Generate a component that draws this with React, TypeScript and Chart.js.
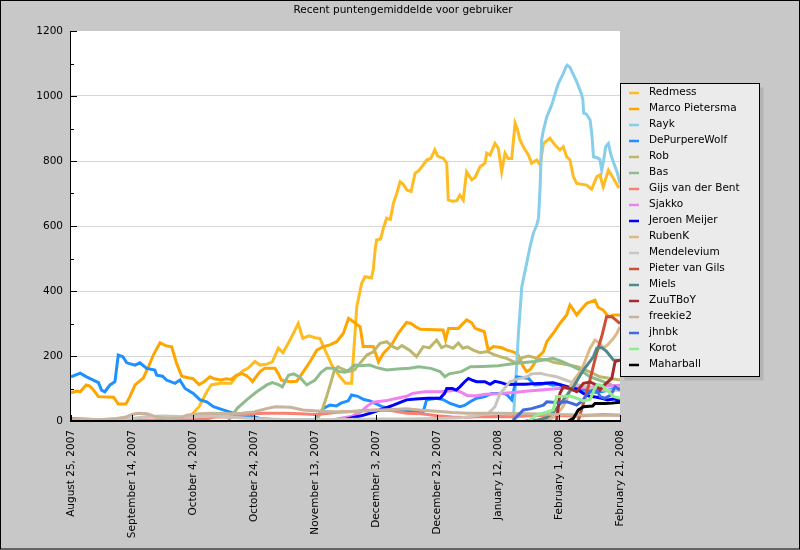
import React, { useEffect, useRef } from "react";
import { Chart, registerables } from "chart.js";

Chart.register(...registerables);

const TITLE = "Recent puntengemiddelde voor gebruiker";
const X_TICK_DAYS = [0, 20, 40, 60, 80, 100, 120, 140, 160, 180];
const X_TICK_LABELS = [
  "August 25, 2007",
  "September 14, 2007",
  "October 4, 2007",
  "October 24, 2007",
  "November 13, 2007",
  "December 3, 2007",
  "December 23, 2007",
  "January 12, 2008",
  "February 1, 2008",
  "February 21, 2008",
];
const Y_MIN = 0;
const Y_MAX = 1200;

type P = [number, number];

const redmess: P[] = [[39,12],[40,24],[42,44],[44.5,90],[46,111],[49,116],[52.5,116],[54,135],[56.5,155],[58,162],[60.3,183],[62,172],[64.2,175],[66,182],[68,224],[69.5,210],[71.8,249],[74.5,300],[76,254],[78,262],[80,256],[81.6,254],[83.8,208],[85.5,172],[88.2,136],[90,116],[92,116],[93.7,352],[95.3,424],[96.4,444],[98.5,440],[99.1,465],[99.7,526],[100.2,557],[101.5,560],[102.4,593],[103.5,624],[104.7,620],[105.7,670],[106.8,700],[107.9,736],[108.8,730],[110.1,711],[111.5,706],[112.8,762],[114,770],[115.5,788],[116.6,803],[118,808],[119.3,834],[120.2,815],[122.1,808],[123.2,793],[123.7,680],[125,676],[126.5,678],[127.5,695],[128.6,680],[129.7,767],[131.4,742],[132.5,750],[134.1,782],[135.7,793],[136.3,824],[137.4,818],[139,854],[140.1,839],[141.2,767],[142.3,824],[143.3,808],[144.5,808],[145.6,916],[146.3,900],[147.2,865],[148.3,844],[150,818],[151,793],[152.7,803],[153.8,788],[154.9,854],[157,870],[158.7,849],[160.3,834],[161.4,844],[162.5,813],[163.6,803],[164.7,752],[165.8,731],[169.1,726],[170.7,713],[172.4,752],[173.4,757],[174.5,721],[176.2,772],[177.8,747],[179.4,721],[180,724]];

const marcoPietersma: P[] = [[0,87],[2,92],[3,90],[5,111],[6,108],[7,100],[9,75],[12,74],[14,73],[15.5,52],[18,52],[19.3,75],[21,111],[23.7,132],[25.4,167],[27,203],[29.2,241],[31,232],[33,228],[34.6,178],[36.3,138],[38,134],[40,130],[42,112],[43.5,120],[45.6,136],[47,130],[49,126],[51,130],[52.5,128],[54.3,141],[56,146],[57.5,140],[58.7,130],[59.5,121],[61,140],[62,152],[63.5,162],[66.9,162],[68,145],[69,126],[71.8,121],[74,122],[76.2,152],[78.4,183],[80.6,218],[82.7,229],[84.9,234],[87.1,244],[89.3,270],[91,316],[92.5,306],[94.8,290],[95.8,229],[99.1,229],[100.8,182],[102.4,208],[105.1,234],[107.3,270],[110,303],[111.5,300],[113,290],[114.5,282],[122,280],[122.8,250],[123.8,285],[127,285],[129.7,311],[131.3,303],[132.5,285],[134,280],[135.5,275],[136.3,239],[136.8,218],[138.5,229],[141,226],[143,218],[145,213],[146.5,205],[148.3,167],[149.4,152],[150.5,158],[151.6,172],[153.2,198],[154.9,213],[156,244],[158.1,270],[160.3,300],[162.5,326],[163.6,357],[164.5,345],[165.8,326],[167,340],[169.1,362],[171.8,372],[172.8,350],[174.5,341],[176.2,321],[178,326],[180,326]];

const rayk: P[] = [[145,0],[146.1,167],[146.7,270],[147.8,413],[149.4,485],[150.5,536],[151.6,578],[152.7,603],[153.3,625],[153.8,720],[154.3,865],[154.9,895],[156,936],[157.6,972],[158.5,1000],[159.8,1039],[161.4,1069],[162.3,1090],[162.7,1095],[163.6,1088],[164.5,1070],[165.8,1044],[167.3,1008],[167.8,990],[168.1,947],[169,944],[170.2,926],[170.8,880],[171.3,813],[172.5,810],[173.4,805],[174,772],[174.6,800],[175.3,844],[176.2,854],[177,820],[177.8,798],[179,767],[180,731]];

const dePurpereWolf: P[] = [[0,136],[3,147],[5.1,136],[7.3,126],[9,118],[10,95],[11.1,90],[12.8,111],[14.4,121],[15.5,203],[17,198],[18.3,179],[21,172],[22.6,179],[24.8,162],[27.5,157],[28.1,141],[30,138],[31.3,126],[34.1,116],[35.7,126],[37.4,100],[40.1,85],[42.3,65],[44.5,59],[46.7,44],[49.9,34],[53.2,24],[55.4,18],[59.8,13],[62,8],[66,5],[70.7,4],[76,3],[80,4],[82.7,39],[84.9,49],[87,46],[88.5,55],[90.9,62],[92,80],[94,76],[96,66],[98,62],[101,49],[102,44],[104,40],[105.7,34],[108,32],[112,29],[115.5,29],[116.6,65],[119.9,70],[122,66],[124.3,54],[127.5,44],[129,48],[131,60],[133,70],[135.7,75],[138,85],[142,85],[143,80],[144.5,65],[145.5,110],[146.1,136],[148,134],[150,131],[152,111],[154,112],[156,116],[158,110],[160,112],[163,100],[166,92],[169,95],[172,88],[175,92],[178,100],[180,98]];

const rob: P[] = [[80,0],[81.7,20],[82.7,44],[83.8,75],[85.3,121],[86.3,155],[87.5,167],[89,160],[91,152],[93,158],[94.8,178],[97,203],[99,212],[101.3,239],[103.5,244],[105.7,228],[107,222],[108.5,232],[111,218],[113.3,198],[115.5,229],[117.5,225],[119.9,249],[121.5,226],[123,232],[125.3,224],[127,240],[128.5,224],[130,228],[131.9,218],[134.1,210],[136.5,214],[138.5,205],[140.7,198],[143,192],[145,183],[146.1,178],[148,195],[150,200],[152,195],[154,190],[156,188],[158.5,180],[161,176],[163.5,172],[166,167],[168.5,157],[171,147],[173.4,136],[176,132],[180,126]];

const bas: P[] = [[51.6,0],[53,20],[54.5,39],[57.6,65],[60.9,90],[64.2,111],[66,118],[68,112],[69.3,105],[71.3,141],[73,145],[75,135],[77.3,111],[80,126],[82,150],[83.8,162],[86,162],[88,152],[90,150],[91.5,160],[93,172],[95,170],[98,172],[100,165],[103.5,157],[107,160],[111,162],[114,167],[118,162],[121,152],[122.6,136],[124,145],[128,152],[131,167],[135,168],[140,170],[146,178],[152,183],[155,188],[158,193],[160.5,185],[163.6,172],[166.9,157],[170.2,136],[172,130],[174.5,121],[177,112],[178.9,100],[180,100]];

const gijsVanDerBent: P[] = [[0,8],[5,6],[10,3],[20,3],[30,3],[40,5],[45,8],[47,12],[53,12],[55,18],[60,22],[63.5,24],[70,24],[75,22],[80,20],[83,22],[88,28],[92,29],[96,32],[100,34],[105,32],[110,24],[115,22],[120,16],[125,12],[129,11],[133,13],[137,13],[140,14],[145,13],[150,16],[155,18],[160,17],[165,15],[170,18],[175,20],[180,18]];

const sjakko: P[] = [[85,2],[88,8],[92,14],[95,28],[97,45],[99,58],[103,62],[107,70],[110,76],[112,85],[116,90],[121,90],[124,92],[126,95],[128,88],[130,78],[133,78],[136,82],[140,84],[145,88],[150,92],[155,96],[160,100],[165,102],[170,104],[175,107],[180,110]];

const jeroenMeijer: P[] = [[88,0],[90,5],[92.6,11],[96,18],[98,24],[101.3,34],[105.7,49],[110,65],[113,68],[117,70],[121,70],[122.5,85],[123.2,100],[125,100],[126.3,95],[127.5,105],[129,120],[130.3,131],[131.5,126],[133,121],[135.7,121],[137.4,113],[139,122],[141,118],[143,112],[146,113],[149,113],[152,115],[155,116],[158,118],[161,110],[163,105],[166,98],[168,85],[170,76],[172,74],[174,70],[176,65],[178,68],[180,62]];

const rubenK: P[] = [[155,0],[158,10],[161,40],[162.5,65],[164.1,116],[167.4,157],[170.2,224],[171.8,249],[173.4,239],[174.5,225],[176,235],[177.8,254],[179,270],[180,290]];

const mendelevium: P[] = [[0,3],[10,5],[20,8],[25,14],[30,15],[35,14],[40,12],[45,15],[50,14],[55,10],[60,8],[65,6],[70,5],[80,4],[90,5],[100,6],[110,6],[120,8],[128,10],[134,18],[137,25],[139,44],[140.7,85],[141.7,95],[143.9,121],[146,128],[149.4,136],[151,145],[153.8,147],[156,142],[159.2,136],[161,130],[163.6,121],[166,112],[169.1,105],[172,98],[175,95],[180,95]];

const pieterVanGils: P[] = [[166.3,0],[169.6,105],[172.3,208],[174,260],[175.6,321],[177.3,321],[178.5,312],[180,300]];

const miels: P[] = [[149,0],[153,3],[156,10],[158.5,30],[161.4,65],[164.7,105],[168,157],[171.3,198],[172.4,224],[174,226],[175.5,215],[177.8,188],[180,186]];

const zuuTBoY: P[] = [[159.2,0],[160.3,85],[161.4,105],[163.5,100],[165.8,90],[168,116],[170.2,120],[172,112],[173.4,95],[175,112],[177.3,131],[178.4,183],[180,188]];

const freekie2: P[] = [[0,2],[5,3],[10,4],[15,8],[18,12],[20,20],[22,24],[25,22],[28,12],[32,8],[36,10],[38,18],[42,22],[46,24],[52,22],[56,24],[60,28],[64,38],[67,44],[72,42],[76,34],[82,30],[88,28],[95,30],[100,33],[110,38],[115,33],[120,30],[125,26],[130,24],[140,24],[150,22],[160,20],[170,18],[180,18]];

const jhnbk: P[] = [[145,2],[148.3,34],[151,38],[154.9,49],[156,59],[158,58],[160,57],[162.5,59],[164,55],[165.8,49],[167.5,60],[169,80],[171,95],[172.4,95],[173.5,75],[175,70],[177,80],[178.4,105],[180,95]];

const korot: P[] = [[150,0],[152.7,18],[155,25],[158.1,34],[159.2,75],[163.6,77],[165.8,70],[168,62],[170.2,66],[171.5,95],[172.5,112],[174,110],[176,92],[178,75],[180,70]];

const maharball: P[] = [[163,0],[164.7,8],[166.3,34],[168,44],[171,46],[171.8,54],[175,54],[177.3,55],[180,58]];

const SERIES_NAMES = [
  "Redmess", "Marco Pietersma", "Rayk", "DePurpereWolf", "Rob", "Bas",
  "Gijs van der Bent", "Sjakko", "Jeroen Meijer", "RubenK", "Mendelevium",
  "Pieter van Gils", "Miels", "ZuuTBoY", "freekie2", "jhnbk", "Korot", "Maharball",
];
const SERIES_DATA = [
  redmess, marcoPietersma, rayk, dePurpereWolf, rob, bas,
  gijsVanDerBent, sjakko, jeroenMeijer, rubenK, mendelevium,
  pieterVanGils, miels, zuuTBoY, freekie2, jhnbk, korot, maharball,
];
const SERIES_COLORS = [
  "#ffbb22", "#ffa500", "#87ceeb", "#1e90ff", "#bdb76b", "#8fbc8f",
  "#fa8072", "#ee82ee", "#0000ff", "#deb887", "#c9c4be",
  "#cd4f39", "#4f8a8b", "#a52a2a", "#c8b49c", "#4169e1", "#90ee90", "#000000",
];

const FONT = "DejaVu Sans";

const framePlugin = {
  id: "frame",
  beforeDraw(chart: any) {
    const { ctx, width, height, chartArea } = chart;
    ctx.save();
    ctx.fillStyle = "#c8c8c8";
    ctx.fillRect(0, 0, width, height);
    ctx.fillStyle = "#ffffff";
    ctx.fillRect(chartArea.left, chartArea.top, chartArea.right - chartArea.left, chartArea.bottom - chartArea.top);
    ctx.strokeStyle = "#000";
    ctx.lineWidth = 1;
    ctx.strokeRect(0.5, 0.5, width - 1, height - 1.5);
    ctx.fillStyle = "#000";
    ctx.font = `10.5px "${FONT}"`;
    ctx.textAlign = "center";
    ctx.textBaseline = "alphabetic";
    ctx.fillText(TITLE, 403, 13);
    ctx.restore();
  },
  afterDatasetsDraw(chart: any) {
    const { ctx, chartArea, scales } = chart;
    const { left, right, top, bottom } = chartArea;
    ctx.save();
    ctx.strokeStyle = "#000";
    ctx.lineWidth = 1;
    ctx.beginPath();
    ctx.moveTo(left - 0.5, top);
    ctx.lineTo(left - 0.5, bottom);
    ctx.stroke();
    for (let v = Y_MIN; v <= Y_MAX; v += 100) {
      const py = Math.round(scales.y.getPixelForValue(v)) + 0.5;
      const len = v % 200 === 0 ? 6 : 3;
      ctx.beginPath();
      ctx.moveTo(left - 1, py);
      ctx.lineTo(left + len, py);
      ctx.stroke();
    }
    X_TICK_DAYS.forEach((d) => {
      const px = Math.round(scales.x.getPixelForValue(d)) + 0.5;
      ctx.beginPath();
      ctx.moveTo(px, bottom);
      ctx.lineTo(px, bottom - 6);
      ctx.stroke();
    });
    ctx.lineWidth = 2;
    ctx.beginPath();
    ctx.moveTo(left - 1, bottom);
    ctx.lineTo(right + 1, bottom);
    ctx.stroke();
    ctx.restore();
  },
  afterDraw(chart: any) {
    const { ctx } = chart;
    const ds = chart.data.datasets;
    const lx = 620.5, ly = 83.5, lw = 139, lh = 293;
    ctx.save();
    ctx.fillStyle = "#b4b4b4";
    ctx.fillRect(lx + 4, ly + 4, lw, lh);
    ctx.fillStyle = "#ebebeb";
    ctx.fillRect(lx, ly, lw, lh);
    ctx.strokeStyle = "#000";
    ctx.lineWidth = 1;
    ctx.strokeRect(lx, ly, lw, lh);
    ctx.font = `10.5px "${FONT}"`;
    ctx.textAlign = "left";
    ctx.textBaseline = "middle";
    ds.forEach((d: any, i: number) => {
      const yy = 93 + 16 * i;
      ctx.strokeStyle = d.borderColor;
      ctx.lineWidth = 2.5;
      ctx.beginPath();
      ctx.moveTo(629, yy);
      ctx.lineTo(639, yy);
      ctx.stroke();
      ctx.fillStyle = "#000";
      ctx.fillText(d.label, 649, yy - 0.5);
    });
    ctx.restore();
  },
};

export default function App() {
  const ref = useRef<HTMLCanvasElement | null>(null);
  useEffect(() => {
    if (!ref.current) return;
    const chart = new Chart(ref.current, {
      type: "line",
      data: {
        datasets: SERIES_DATA.map((pts, i) => ({
          label: SERIES_NAMES[i],
          data: pts.map(([x, y]) => ({ x, y })),
          borderColor: SERIES_COLORS[i],
          backgroundColor: SERIES_COLORS[i],
          borderWidth: 3,
          pointRadius: 0,
          tension: 0,
          fill: false,
          order: -i,
        })),
      },
      options: {
        responsive: false,
        animation: false,
        events: [],
        layout: { padding: { top: 31, right: 180, bottom: 0, left: 0 } },
        plugins: { legend: { display: false }, title: { display: false }, tooltip: { enabled: false } },
        scales: {
          x: {
            type: "linear",
            min: 0,
            max: 180,
            grid: { display: false, drawTicks: false },
            border: { display: false },
            afterFit: (s: any) => { s.height = 129; },
            ticks: {
              stepSize: 20,
              autoSkip: false,
              maxRotation: 90,
              minRotation: 90,
              padding: 9,
              color: "#000",
              font: { family: FONT, size: 10.5 },
              callback: (v: any) => {
                const idx = X_TICK_DAYS.indexOf(Number(v));
                return idx >= 0 ? X_TICK_LABELS[idx] : "";
              },
            },
          },
          y: {
            min: Y_MIN,
            max: Y_MAX,
            grid: {
              drawTicks: false,
              color: (c: any) => {
                const v = c.tick ? c.tick.value : 0;
                return v % 200 === 0 && v !== 0 && v !== Y_MAX ? "#d6d6d6" : "rgba(0,0,0,0)";
              },
            },
            border: { display: false },
            afterFit: (s: any) => { s.width = 71; },
            ticks: {
              stepSize: 100,
              autoSkip: false,
              padding: 8,
              color: "#000",
              font: { family: FONT, size: 10.5 },
              callback: (v: any) => (Number(v) % 200 === 0 ? String(v) : ""),
            },
          },
        },
      },
      plugins: [framePlugin],
    });
    return () => chart.destroy();
  }, []);
  return (
    <div style={{ position: "absolute", left: 0, top: 0, width: 800, height: 550 }}>
      <canvas ref={ref} width={800} height={550} style={{ display: "block" }} />
    </div>
  );
}
